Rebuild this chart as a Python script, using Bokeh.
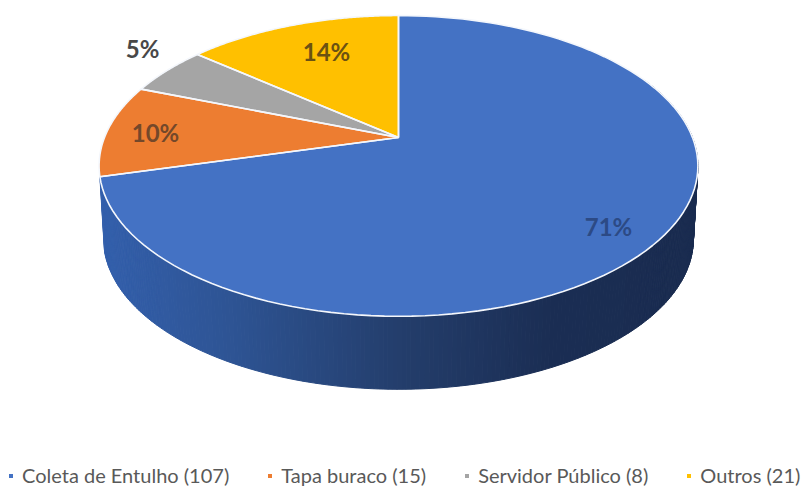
import numpy as np
from bokeh.core.properties import value
from bokeh.embed import file_html
from bokeh.models import Legend, LegendItem, Range1d
from bokeh.plotting import figure
from bokeh.resources import INLINE

categories = ["Coleta de Entulho (107)", "Tapa buraco (15)", "Servidor Público (8)", "Outros (21)"]
counts = [107, 15, 8, 21]
colors = ["#4472C4", "#ED7D31", "#A5A5A5", "#FFC000"]
pct_labels = ["71%", "10%", "5%", "14%"]
label_colors = ["#2C4A85", "#74482A", "#484848", "#6B5212"]

# perspective model of the tilted disc, in reference pixels
CX, CY, A, B, K = 398.0, 137.0, 294.0, 145.0, 0.189
DEPTH, BOTTOM_SCALE = 73.0, 0.985


def project(theta, scale=1.0, dy=0.0):
    x_u, y_u = np.sin(theta), np.cos(theta)
    w = 1 + K * y_u
    return CX + scale * A * x_u / w, CY + dy - B * y_u / w


shares = np.array(counts, dtype=float) / sum(counts)
edges = np.concatenate([[0.0], np.cumsum(shares)]) * 2 * np.pi

p = figure(width=803, height=489, output_backend="svg", toolbar_location=None,
           x_range=Range1d(0, 803), y_range=Range1d(489, 0), min_border=0)
p.axis.visible = False
p.grid.visible = False
p.outline_line_color = None

# side wall of the first slice, shaded by screen position
stops_x = [100, 230, 400, 550, 700]
stops_rgb = np.array([[52, 96, 172], [46, 84, 148], [36, 62, 108], [27, 46, 84], [26, 44, 80]], dtype=float)
wall = np.linspace(np.radians(65), edges[1], 260)
sx, sy, sc = [], [], []
for t0, t1 in zip(wall[:-1], wall[1:]):
    x0, y0 = project(t0)
    x1, y1 = project(t1)
    x2, y2 = project(t1, BOTTOM_SCALE, DEPTH)
    x3, y3 = project(t0, BOTTOM_SCALE, DEPTH)
    sx.append([x0, x1, x2, x3])
    sy.append([y0, y1, y2, y3])
    mid = (x0 + x1) / 2
    rgb = [np.interp(mid, stops_x, stops_rgb[:, i]) for i in range(3)]
    sc.append("#%02x%02x%02x" % tuple(int(v) for v in rgb))
p.patches(sx, sy, fill_color=sc, line_color=sc, line_width=1)

# top surface
tx, ty, rims = [], [], []
for i in range(len(counts)):
    th = np.linspace(edges[i], edges[i + 1], 120)
    x, y = project(th)
    tx.append([CX, *x])
    ty.append([CY, *y])
    rims.append((x, y))
pie = p.patches(tx, ty, fill_color=colors, line_color=None)

# white separators and rim
rx, ry = [], []
for i, (x, y) in enumerate(rims):
    rx.append([CX, *x, CX])
    ry.append([CY, *y, CY])
p.multi_line(rx, ry, line_color="#F4F7FC", line_width=1.6, line_join="round")

# percentage labels
label_x = [608, 155, 142, 326]
label_y = [226, 132, 48, 51]
p.text(label_x, label_y, text=pct_labels, text_color=label_colors,
       text_font=value("Lato"), text_font_style="bold", text_font_size="24px",
       text_align="center", text_baseline="middle")

legend = Legend(
    items=[LegendItem(label=c, renderers=[pie], index=i) for i, c in enumerate(categories)],
    orientation="horizontal", location=(8, 2),
    glyph_width=5, glyph_height=5, label_standoff=9, spacing=38,
    label_text_font="Lato", label_text_font_size="20px", label_text_color="#595959",
    background_fill_alpha=0, border_line_color=None, margin=0, padding=0,
)
p.add_layout(legend, "center")

open("out.html", "w").write(file_html(p, INLINE))
